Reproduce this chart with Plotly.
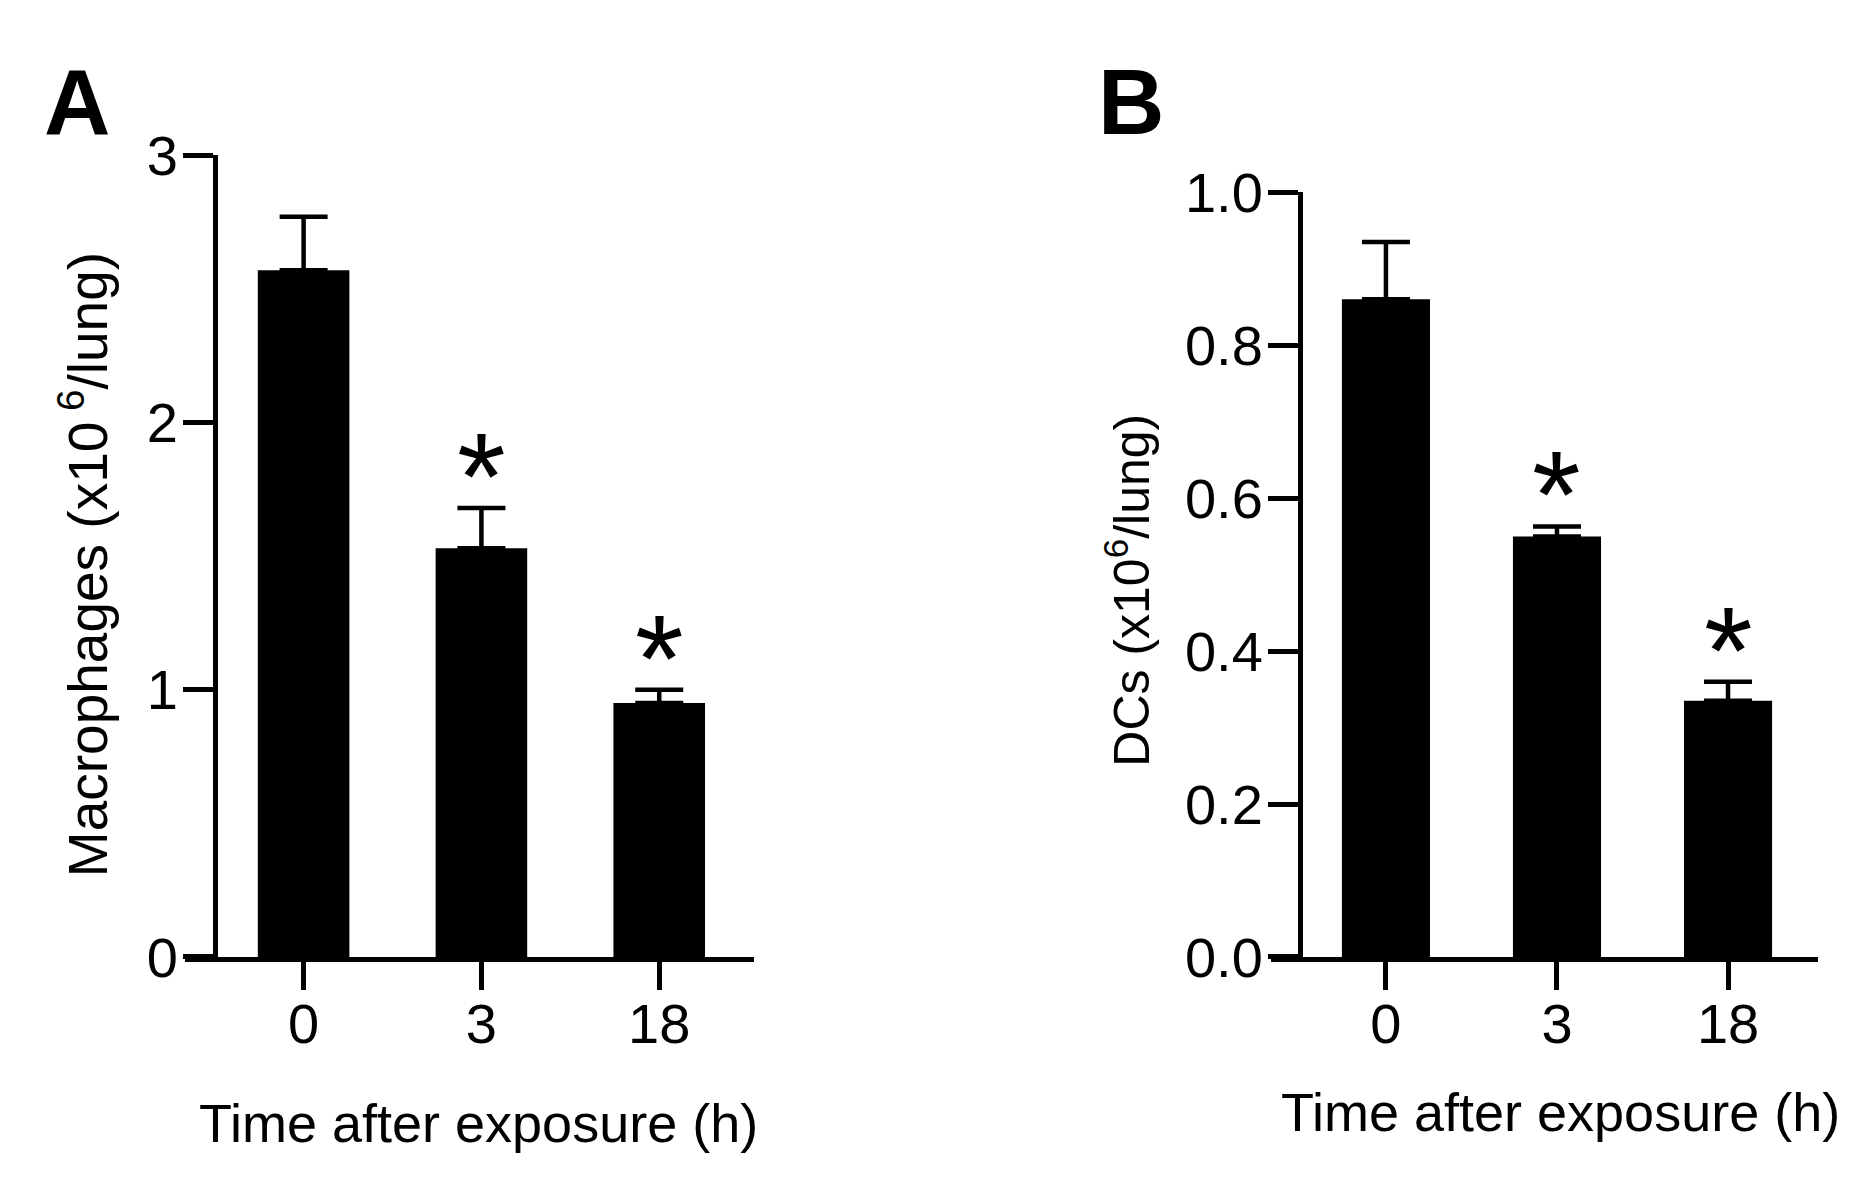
import plotly.graph_objects as go

# ---- data ----
categories = ["0", "3", "18"]
macrophage_mean = [2.57, 1.53, 0.95]
macrophage_sem = [0.20, 0.15, 0.05]
dc_mean = [0.86, 0.55, 0.335]
dc_sem = [0.075, 0.013, 0.025]
significant = [False, True, True]
mac_ticks = [0, 1, 2, 3]
dc_ticks = [0.0, 0.2, 0.4, 0.6, 0.8, 1.0]

x_title = "Time after exposure (h)"
mac_title = "Macrophages (x10<sup> 6</sup>/lung)"
dc_title = "DCs (x10<sup>6</sup>/lung)"

# ---- layout helpers (page pixels -> paper fractions) ----
W, H = 1850, 1174
OFF = 8


def fx(px):
    return (px - OFF) / W


def fy(py):
    return 1 - (py - OFF) / H


FONT = "Liberation Sans, Arial, sans-serif"
TICK_SIZE = 56
TITLE_SIZE = 54

fig = go.Figure()

panels = [
    (macrophage_mean, macrophage_sem, "x", "y"),
    (dc_mean, dc_sem, "x2", "y2"),
]
for mean, sem, xa, ya in panels:
    fig.add_trace(
        go.Bar(
            x=categories,
            y=mean,
            xaxis=xa,
            yaxis=ya,
            width=0.515,
            marker=dict(color="black", line=dict(width=0)),
            error_y=dict(
                type="data",
                array=sem,
                arrayminus=[0] * len(sem),
                symmetric=False,
                color="black",
                thickness=4.5,
                width=24,
            ),
            showlegend=False,
        )
    )
    # significance asterisks, positioned by category index on the category axis
    for i, (m, s, sig) in enumerate(zip(mean, sem, significant)):
        if sig:
            fig.add_annotation(
                x=i, y=m + s, xref=xa, yref=ya,
                text="*", showarrow=False,
                yanchor="bottom", yshift=-40,
                font=dict(family=FONT, size=125, color="black"),
            )

axis_common = dict(
    showline=True, linecolor="black", linewidth=5,
    ticks="outside", tickwidth=4.5, tickcolor="black",
    showgrid=False, zeroline=False,
    tickfont=dict(family=FONT, size=TICK_SIZE, color="black"),
)

fig.update_layout(
    width=W, height=H,
    margin=dict(l=0, r=0, t=0, b=0),
    paper_bgcolor="white", plot_bgcolor="white",
    showlegend=False,
    xaxis=dict(axis_common, domain=[fx(185), fx(754)], range=[-0.667, 2.533],
               anchor="y", type="category", ticklen=28, ticklabelstandoff=-14),
    yaxis=dict(axis_common, domain=[fy(978), fy(131)], range=[0, 3],
               anchor="free", position=fx(215), tickvals=mac_ticks, ticklen=30,
               ticklabelstandoff=-6),
    xaxis2=dict(axis_common, domain=[fx(1271), fx(1818)], range=[-0.672, 2.526],
                anchor="y2", type="category", ticklen=28, ticklabelstandoff=-14),
    yaxis2=dict(axis_common, domain=[fy(978), fy(170)], range=[0, 1],
                anchor="free", position=fx(1300), tickvals=dc_ticks,
                tickformat=".1f", ticklen=30, ticklabelstandoff=-6),
)

title_font = dict(family=FONT, size=TITLE_SIZE, color="black")
fig.add_annotation(x=fx(478), y=fy(1153), xref="paper", yref="paper", text=x_title,
                   showarrow=False, xanchor="center", yanchor="middle", font=title_font)
fig.add_annotation(x=fx(1560), y=fy(1142), xref="paper", yref="paper", text=x_title,
                   showarrow=False, xanchor="center", yanchor="middle", font=title_font)
fig.add_annotation(x=fx(84), y=fy(564), xref="paper", yref="paper", text=mac_title,
                   textangle=-90, showarrow=False, xanchor="center", yanchor="middle",
                   font=dict(family=FONT, size=55, color="black"))
fig.add_annotation(x=fx(1128), y=fy(591), xref="paper", yref="paper", text=dc_title,
                   textangle=-90, showarrow=False, xanchor="center", yanchor="middle",
                   font=dict(family=FONT, size=50, color="black"))

label_font = dict(family=FONT, size=92, color="black")
fig.add_annotation(x=fx(42), y=fy(75), xref="paper", yref="paper", text="<b>A</b>",
                   showarrow=False, xanchor="left", yanchor="middle", font=label_font)
fig.add_annotation(x=fx(1096), y=fy(75), xref="paper", yref="paper", text="<b>B</b>",
                   showarrow=False, xanchor="left", yanchor="middle", font=label_font)

fig.write_html("out.html")
